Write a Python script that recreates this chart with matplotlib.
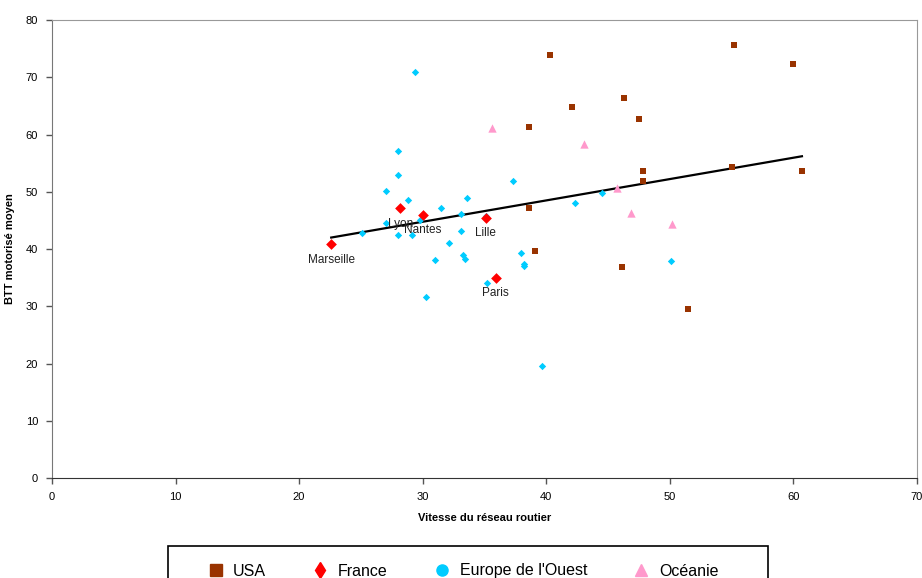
import matplotlib.pyplot as plt
from matplotlib.lines import Line2D
from matplotlib.patches import Rectangle

plt.rcParams['font.family'] = ['Liberation Sans', 'DejaVu Sans']

# USA
usa_x = [38.6, 38.6, 39.1, 40.3, 55.2, 60.0, 42.1, 46.3, 47.5, 47.8, 47.8, 55.0, 60.7, 46.1, 51.5]
usa_y = [61.3, 47.1, 39.6, 73.9, 75.6, 72.3, 64.8, 66.3, 62.7, 53.6, 51.8, 54.3, 53.6, 36.9, 29.6]

# France
fr_names = ['Lyon', 'Nantes', 'Lille', 'Marseille', 'Paris']
fr_x = [28.2, 30.0, 35.1, 22.6, 35.9]
fr_y = [47.1, 46.0, 45.5, 40.8, 34.9]

# Europe de l'Ouest
eu_x = [29.35, 28.0, 28.0, 27.0, 28.8, 33.6, 31.5, 33.1, 35.1, 29.8, 27.0, 25.1, 28.0, 29.1,
        33.1, 32.1, 31.0, 33.3, 33.4, 35.2, 30.3, 37.3, 38.0, 38.2, 38.2, 42.3, 44.5, 50.1, 39.7]
eu_y = [70.9, 57.1, 53.0, 50.1, 48.5, 48.9, 47.2, 46.2, 45.7, 45.1, 44.5, 42.8, 42.5, 42.4,
        43.2, 41.1, 38.0, 38.9, 38.3, 34.1, 31.7, 51.8, 39.3, 37.3, 37.0, 48.0, 49.7, 37.9, 19.5]

# Oceanie
oc_x = [35.6, 43.1, 45.7, 46.9, 50.2]
oc_y = [61.1, 58.4, 50.6, 46.3, 44.4]

# trend line
trend_x = [22.6, 60.7]
trend_y = [42.0, 56.2]

fig = plt.figure(figsize=(9.22, 5.78), dpi=100)
ax = fig.add_axes([0.0564, 0.173, 0.938, 0.7924])

ax.plot(trend_x, trend_y, color='black', lw=1.6, zorder=2)
ax.scatter(eu_x, eu_y, marker='D', s=14, color='#00CCFF', lw=0, zorder=3)
ax.scatter(usa_x, usa_y, marker='s', s=24, color='#993300', lw=0, zorder=3)
ax.scatter(oc_x, oc_y, marker='^', s=36, color='#FF99CC', lw=0, zorder=3)
ax.scatter(fr_x, fr_y, marker='D', s=30, color='#FF0000', lw=0, zorder=4)

for name, x, y in zip(fr_names, fr_x, fr_y):
    ax.annotate(name, (x, y), xytext=(0, -11), textcoords='offset points',
                ha='center', va='center', fontsize=8.5, color='#222222', zorder=5)

ax.set_xlim(0, 70)
ax.set_ylim(0, 80)
ax.set_xticks(range(0, 71, 10))
ax.set_yticks(range(0, 81, 10))
ax.tick_params(labelsize=8, length=4, width=1, color='#555555', pad=6)
ax.set_xlabel('Vitesse du réseau routier', fontsize=8, fontweight='bold', labelpad=8)
ax.set_ylabel('BTT motorisé moyen', fontsize=8, fontweight='bold', labelpad=8)
for side in ['top', 'right']:
    ax.spines[side].set_color('#999999')
ax.spines['left'].set_color('#777777')
ax.spines['bottom'].set_color('#333333')

handles = [
    Line2D([], [], marker='s', ls='', color='#993300', markersize=8),
    Line2D([], [], marker='d', ls='', color='#FF0000', markersize=8),
    Line2D([], [], marker='o', ls='', color='#00CCFF', markersize=8),
    Line2D([], [], marker='^', ls='', color='#FF99CC', markersize=8),
]
top = 1 - 546 / 578
fig.legend(handles, ['USA', 'France', "Europe de l'Ouest", 'Océanie'],
           loc='center', bbox_to_anchor=(463 / 922, 1 - 571 / 578),
           ncol=4, fontsize=11.5, frameon=False, handlelength=1.0,
           handletextpad=0.6, columnspacing=2.9)
fig.patches.append(Rectangle((168 / 922, -0.1), 600 / 922, top + 0.1,
                             transform=fig.transFigure, fill=False,
                             edgecolor='black', lw=1.2))

fig.savefig('out.png', dpi=100)
